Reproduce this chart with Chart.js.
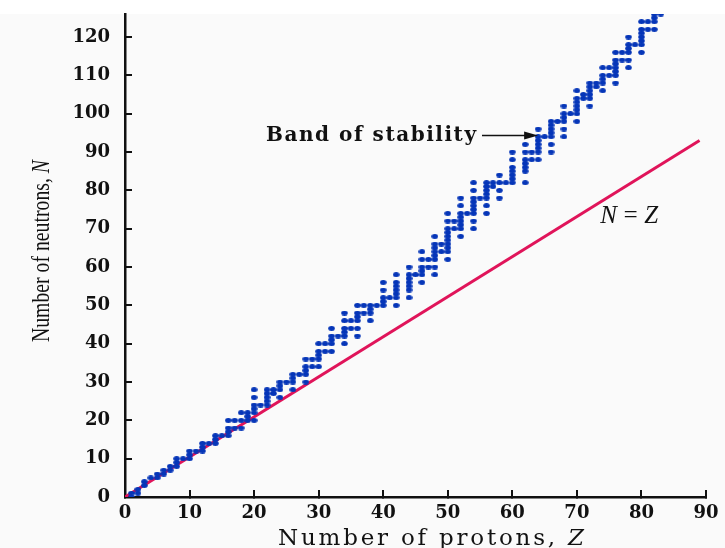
<!DOCTYPE html>
<html><head><meta charset="utf-8">
<script src="https://cdn.jsdelivr.net/npm/chart.js@4.4.0/dist/chart.umd.min.js"></script>
<style>html,body{margin:0;padding:0;background:#fff;}#wrap{width:725px;height:548px;}</style>
</head><body><div id="wrap"><canvas id="c" width="725" height="548"></canvas></div>
<script>
// Number of protons Z (index) and the neutron numbers N of stable nuclei plotted for each Z
const protonNumbers = [];
for (let z = 1; z <= 83; z++) protonNumbers.push(z);
const stableNeutrons = [
  [0,1],[1,2],[3,4],[5],[5,6],[6,7],[7,8],[8,9,10],[10],[10,11,12],
  [12],[12,13,14],[14],[14,15,16],[16],[16,17,18,20],[18,20],[18,20,22],[20,21,22],[20,22,23,24,26,28],
  [24],[24,25,26,27,28],[27,28],[26,28,29,30],[30],[28,30,31,32],[32],[30,32,33,34,36],[34,36],[34,36,37,38,40],
  [38,40],[38,40,41,42,44],[42],[40,42,43,44,46,48],[44,46],[42,44,46,47,48,50],[48,50],[46,48,49,50],[50],[50,51,52,54,56],
  [52],[50,52,53,54,55,56,58],[],[52,54,55,56,57,58,60],[58],[56,58,59,60,62,64],[60,62],[58,60,62,63,64,65,66,68],[64,66],[62,64,65,66,67,68,69,70,72,74],
  [70,72],[68,70,71,72,73,74,76,78],[74],[70,72,74,75,76,77,78,80,82],[78],[74,76,78,79,80,81,82],[81,82],[78,80,82,84],[82],[82,83,84,85,86,88,90],
  [],[82,85,86,87,88,90,92],[88,90],[88,90,91,92,93,94,96],[94],[90,92,94,95,96,97,98],[98],[94,96,98,99,100,102],[100],[98,100,101,102,103,104,106],
  [104,105],[102,104,105,106,107,108],[107,108],[106,108,109,110,112],[110,112],[108,110,111,112,113,114,116],[114,116],[112,114,116,117,118,120],[118],[116,118,119,120,121,122,124],
  [122,124],[122,124,125,126],[126]
];
// N = Z reference line (as drawn)
const lineZ = [0, 89];
const lineN = [0, 93];
// Axis ticks
const xTickValues = [0,10,20,30,40,50,60,70,80,90];
const yTickValues = [0,10,20,30,40,50,60,70,80,90,100,110,120];
const xTitle = 'Number of protons, ';
const xTitleVar = 'Z';
const yTitle = 'Number of neutrons, ';
const yTitleVar = 'N';
const bandLabel = 'Band of stability';
const lineLabel = 'N=Z';

const nuclidePoints = [];
protonNumbers.forEach((z, i) => stableNeutrons[i].forEach(n => nuclidePoints.push({x: z, y: n})));
const linePoints = lineZ.map((z, i) => ({x: z, y: lineN[i]}));

const DOT_COLOR = '#0535b8';
const dot = document.createElement('canvas');
dot.width = 7; dot.height = 5;
{ const g = dot.getContext('2d'); g.fillStyle = DOT_COLOR; g.beginPath(); g.ellipse(3.5, 2.5, 3.3, 2.5, 0, 0, Math.PI*2); g.fill(); }

const SERIF = "'DejaVu Serif', serif";
const TIMES = "'Liberation Serif', serif";

// draw a run of text parts, letter-spaced so that the whole run spans `width` px, starting at x
function drawFitted(ctx, parts, x, y, width) {
  ctx.letterSpacing = '0px';
  let natural = 0, chars = 0;
  parts.forEach(p => { ctx.font = p.font; p.w = ctx.measureText(p.text).width; natural += p.w; chars += p.text.length; });
  const sp = Math.max(0, (width - natural) / Math.max(1, chars - 1));
  ctx.letterSpacing = sp + 'px';
  let cx = x;
  parts.forEach(p => { ctx.font = p.font; ctx.fillText(p.text, cx, y); cx += p.w + sp * p.text.length; });
  ctx.letterSpacing = '0px';
}

const bgPlugin = {
  id: 'bg',
  beforeDraw(chart) {
    const ctx = chart.ctx;
    ctx.save();
    ctx.fillStyle = '#ffffff'; ctx.fillRect(0, 0, chart.width, chart.height);
    ctx.fillStyle = '#fafafa'; ctx.fillRect(0, 14, chart.width, chart.height - 14);
    ctx.restore();
  }
};

const textPlugin = {
  id: 'texts',
  afterDraw(chart) {
    const ctx = chart.ctx, xs = chart.scales.x, ys = chart.scales.y;
    ctx.save();
    ctx.fillStyle = '#111';
    ctx.textAlign = 'left';
    // x title
    ctx.textBaseline = 'alphabetic';
    drawFitted(ctx, [{text: xTitle, font: "23px " + SERIF}, {text: xTitleVar, font: "italic 23px " + SERIF}], 278, 545, 306);
    // y title (rotated, condensed)
    ctx.save();
    ctx.translate(49, 342);
    ctx.rotate(-Math.PI / 2);
    const yf1 = "25px " + TIMES, yf2 = "italic 25px " + TIMES;
    ctx.font = yf1; const v1 = ctx.measureText(yTitle).width;
    ctx.font = yf2; const v2 = ctx.measureText(yTitleVar).width;
    ctx.scale(182 / (v1 + v2), 1);
    ctx.font = yf1; ctx.fillText(yTitle, 0, 0);
    ctx.font = yf2; ctx.fillText(yTitleVar, v1, 0);
    ctx.restore();
    // Band of stability label + arrow
    const by = ys.getPixelForValue(94.3);
    ctx.textBaseline = 'middle';
    drawFitted(ctx, [{text: bandLabel, font: "bold 20px " + SERIF}], 266, by, 210);
    const ax0 = xs.getPixelForValue(55.3), ax1 = xs.getPixelForValue(64.0);
    ctx.strokeStyle = '#111'; ctx.lineWidth = 1.6;
    ctx.beginPath(); ctx.moveTo(ax0, by); ctx.lineTo(ax1 - 10, by); ctx.stroke();
    ctx.beginPath(); ctx.moveTo(ax1, by); ctx.lineTo(ax1 - 14, by - 4); ctx.lineTo(ax1 - 14, by + 4); ctx.closePath(); ctx.fill();
    // N=Z label
    drawFitted(ctx, [{text: lineLabel, font: "italic 25px " + TIMES}], xs.getPixelForValue(73.6), ys.getPixelForValue(73.3), 58);
    ctx.restore();
  }
};

new Chart(document.getElementById('c'), {
  type: 'scatter',
  data: {
    datasets: [
      { label: 'N = Z', data: linePoints, showLine: true, borderColor: '#e0145a', borderWidth: 3, pointRadius: 0, order: 2 },
      { label: 'Stable nuclei', data: nuclidePoints, pointStyle: dot, pointRadius: 3, backgroundColor: DOT_COLOR, borderWidth: 0, order: 1 }
    ]
  },
  options: {
    responsive: false, animation: false, devicePixelRatio: 1,
    layout: { padding: { left: 0, right: 19, top: 14, bottom: 0 } },
    plugins: { legend: { display: false }, tooltip: { enabled: false } },
    scales: {
      x: {
        type: 'linear', min: 0, max: 90,
        afterFit: s => { s.height = 51; s.paddingLeft = 0; s.paddingRight = 0; },
        afterBuildTicks: s => { s.ticks = xTickValues.map(v => ({ value: v })); },
        border: { display: true, color: '#111', width: 2.5 },
        grid: { drawOnChartArea: false, drawTicks: true, tickLength: -7, color: '#111', lineWidth: 2 },
        ticks: { padding: 13, color: '#111', font: { family: "'DejaVu Serif'", size: 18, weight: 'bold' }, maxRotation: 0, autoSkip: false }
      },
      y: {
        type: 'linear', min: 0, max: 126,
        afterFit: s => { s.width = 125; s.paddingTop = 0; s.paddingBottom = 0; },
        afterBuildTicks: s => { s.ticks = yTickValues.map(v => ({ value: v })); },
        border: { display: true, color: '#111', width: 2.5 },
        grid: { drawOnChartArea: false, drawTicks: true, tickLength: -7, color: '#111', lineWidth: 2 },
        ticks: { padding: 22, color: '#111', font: { family: "'DejaVu Serif'", size: 18, weight: 'bold' }, autoSkip: false }
      }
    }
  },
  plugins: [bgPlugin, textPlugin]
});
</script>
</body></html>
